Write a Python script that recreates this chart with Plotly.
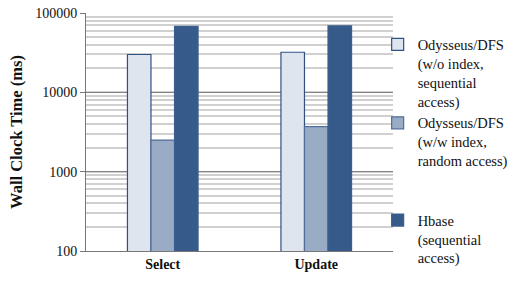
import plotly.graph_objects as go

categories = ["Select", "Update"]
series_names = [
    "Odysseus/DFS<br>(w/o index,<br>sequential<br>access)",
    "Odysseus/DFS<br>(w/w index,<br>random access)<br> <br> ",
    "Hbase<br>(sequential<br>access)",
]
no_index_seq = [30000, 32000]
index_random = [2500, 3700]
hbase_seq = [68000, 69000]
tick_vals = [100, 1000, 10000, 100000]
tick_text = ["100", "1000", "10000", "100000"]

FONT = "Times New Roman, Liberation Serif, serif"
fills = ["#dfe5ef", "#9aabc6", "#365a89"]
lines = ["#2e5383", "#4f6d99", "#3b5f8e"]
values = [no_index_seq, index_random, hbase_seq]

fig = go.Figure()
for i, (name, vals, fc, lc) in enumerate(zip(series_names, values, fills, lines)):
    fig.add_trace(go.Bar(
        x=categories, y=vals, name=name,
        marker=dict(color=fc, line=dict(color=lc, width=1.2)),
        legendgroup="g%d" % i,
    ))

fig.update_layout(
    width=523, height=300,
    margin=dict(l=86, r=130, t=13, b=49, autoexpand=False),
    paper_bgcolor="white", plot_bgcolor="white",
    barmode="group", bargap=0.54, bargroupgap=0,
    font=dict(family=FONT, color="#111"),
    legend=dict(
        x=0.95, y=0.935, xanchor="left", yanchor="top",
        font=dict(family=FONT, size=14.5, color="#111"),
        bgcolor="rgba(0,0,0,0)",
        traceorder="normal", valign="top",
    ),
    xaxis=dict(
        showline=True, linecolor="#777", linewidth=1,
        tickfont=dict(family=FONT, size=14, color="#111"),
        ticks="", tickprefix="<b>", ticksuffix="</b>",
    ),
    yaxis=dict(
        type="log", range=[2, 5],
        tickvals=tick_vals, ticktext=tick_text,
        tickfont=dict(family=FONT, size=14, color="#111"),
        ticklabeloverflow="allow",
        showline=True, linecolor="#777", linewidth=1,
        ticks="outside", ticklen=5, tickcolor="#777",
        showgrid=True, gridcolor="#848484", gridwidth=1,
        minor=dict(dtick="D1", showgrid=True, gridcolor="#d0d0d0", gridwidth=1.5, ticks=""),
        title=dict(text="<b>Wall Clock Time (ms)</b>", font=dict(family=FONT, size=16.5, color="#111"), standoff=8),
        zeroline=False,
    ),
)
# remove the default 8px page margin so the figure fills the 523x300 window,
# and hide the legend's scroll bar (the legend is taller than the plot area)
fig.write_html(
    "out.html",
    config={"displayModeBar": False},
    post_script=(
        "document.body.style.margin='0';document.body.style.overflow='hidden';"
        "document.querySelectorAll('.legend .scrollbar').forEach(function(e){e.style.display='none';});"
    ),
)
